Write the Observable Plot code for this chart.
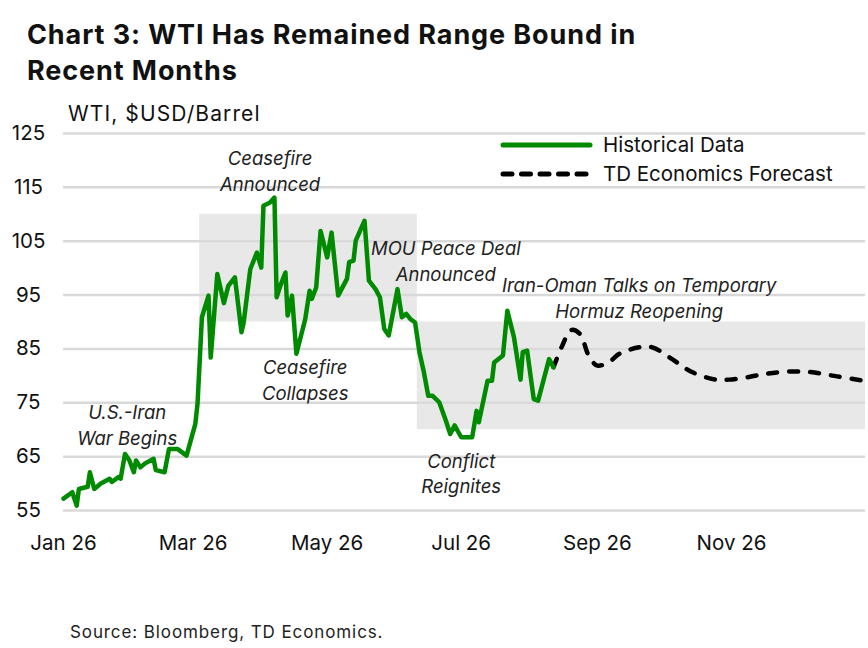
<!DOCTYPE html>
<html>
<head>
<meta charset="utf-8">
<script src="https://cdn.jsdelivr.net/npm/d3@7"></script>
<script src="https://cdn.jsdelivr.net/npm/@observablehq/plot@0.6"></script>
<style>
  body { margin: 0; background: #fff; font-family: Inter, "Open Sans", sans-serif; color: #111; }
  #wrap { position: relative; width: 868px; height: 648px; overflow: hidden; }
  #title { position: absolute; left: 27px; top: 17px; font-size: 27px; font-weight: 700; line-height: 36px; letter-spacing: 0.9px; }
  #ylab { position: absolute; left: 68px; top: 101px; font-size: 21px; letter-spacing: 1.1px; }
  #chart { position: absolute; left: 0; top: 95px; }
  #legend { position: absolute; left: 500px; top: 130px; font-size: 20.5px; letter-spacing: 0px; }
  #legend .row { display: flex; align-items: center; height: 29px; }
  #legend svg { margin-right: 10px; }
  #caption { position: absolute; left: 70px; top: 622px; font-size: 17px; letter-spacing: 0.9px; color: #222; }
</style>
</head>
<body>
<div id="wrap">
  <div id="title">Chart 3: WTI Has Remained Range Bound in<br>Recent Months</div>
  <div id="ylab">WTI, $USD/Barrel</div>
  <div id="chart"></div>
  <div id="legend"></div>
  <div id="caption">Source: Bloomberg, TD Economics.</div>
</div>
<script>
// ---- data ----
const histDates = ["2026-01-01","2026-01-05","2026-01-07","2026-01-08","2026-01-12","2026-01-13","2026-01-15","2026-01-18","2026-01-22","2026-01-23","2026-01-26","2026-01-27","2026-01-29","2026-01-31","2026-02-02","2026-02-03","2026-02-05","2026-02-07","2026-02-11","2026-02-12","2026-02-16","2026-02-18","2026-02-22","2026-02-26","2026-03-02","2026-03-03","2026-03-05","2026-03-08","2026-03-09","2026-03-12","2026-03-15","2026-03-17","2026-03-20","2026-03-23","2026-03-24","2026-03-27","2026-03-30","2026-04-01","2026-04-02","2026-04-05","2026-04-07","2026-04-08","2026-04-10","2026-04-12","2026-04-13","2026-04-15","2026-04-17","2026-04-21","2026-04-23","2026-04-24","2026-04-26","2026-04-28","2026-05-01","2026-05-03","2026-05-06","2026-05-10","2026-05-11","2026-05-13","2026-05-14","2026-05-18","2026-05-20","2026-05-23","2026-05-25","2026-05-27","2026-05-29","2026-06-02","2026-06-04","2026-06-06","2026-06-08","2026-06-10","2026-06-12","2026-06-14","2026-06-16","2026-06-18","2026-06-21","2026-06-24","2026-06-26","2026-06-28","2026-07-01","2026-07-06","2026-07-08","2026-07-09","2026-07-13","2026-07-15","2026-07-16","2026-07-20","2026-07-22","2026-07-25","2026-07-28","2026-07-29","2026-07-31","2026-08-03","2026-08-05","2026-08-10","2026-08-12"];
const histValues = [57.2,58.4,55.9,59.0,59.4,62.1,59.0,60.0,60.9,60.3,61.2,60.9,65.5,64.3,62.1,64.3,63.0,63.7,64.6,62.5,62.1,66.4,66.4,65.2,71.1,74.8,90.9,94.9,83.4,98.9,93.5,96.7,98.3,88.1,89.9,99.8,102.9,100.1,111.6,112.2,113.1,94.6,97.1,99.2,91.2,94.9,84.1,90.5,95.8,94.3,96.4,106.9,102.0,106.6,94.9,98.0,101.1,101.4,105.1,108.8,97.7,96.1,94.6,88.7,87.5,96.1,90.9,91.5,90.5,89.9,84.4,80.7,76.3,76.3,75.1,71.7,69.2,70.8,68.6,68.6,73.5,71.4,79.1,79.1,82.5,83.8,92.1,87.2,79.3,84.4,84.7,75.7,75.4,83.1,81.6];
const fcDates = ["2026-08-12","2026-08-16","2026-08-20","2026-08-24","2026-08-28","2026-09-01","2026-09-07","2026-09-11","2026-09-20","2026-09-26","2026-10-05","2026-10-14","2026-10-25","2026-10-31","2026-11-09","2026-11-17","2026-11-27","2026-12-07","2026-12-19","2026-12-31"];
const fcValues = [81.6,85.6,88.5,87.8,83.8,81.9,82.8,84.1,85.3,85.3,83.1,80.7,79.3,79.3,79.8,80.4,80.8,80.7,79.9,79.1];
const rangeStarts = ["2026-03-04","2026-06-11"];
const rangeEnds = ["2026-06-11","2027-01-01"];
const rangeLows = [90,70];
const rangeHighs = [110,90];
const yTicks = [55,65,75,85,95,105,115,125];
const xTickDates = ["2026-01-01","2026-03-01","2026-05-01","2026-07-01","2026-09-01","2026-11-01"];
const noteTexts = ["Ceasefire\nAnnounced","U.S.-Iran\nWar Begins","Ceasefire\nCollapses","MOU Peace Deal\nAnnounced","Conflict\nReignites","Iran-Oman Talks on Temporary\nHormuz Reopening"];
const noteDates = ["2026-04-05","2026-01-30","2026-04-21","2026-06-24","2026-07-01","2026-09-20"];
const noteValues = [118.3,71.1,79.5,101.5,62.1,94.7];
const seriesNames = ["Historical Data","TD Economics Forecast"];

// ---- build ----
const P = d3.utcParse("%Y-%m-%d");
const hist = histDates.map((d,i)=>({date:P(d), value:histValues[i]}));
const fc = fcDates.map((d,i)=>({date:P(d), value:fcValues[i]}));
const ranges = rangeStarts.map((d,i)=>({x1:P(d), x2:P(rangeEnds[i]), y1:rangeLows[i], y2:rangeHighs[i]}));
const notes = noteTexts.map((t,i)=>({text:t, date:P(noteDates[i]), value:noteValues[i]}));
const xt = xTickDates.map(P);
const GREEN = "#008a00";

const chart = Plot.plot({
  width: 868, height: 480,
  marginLeft: 63, marginRight: 3, marginTop: 38, marginBottom: 65,
  style: {fontFamily: "Inter, 'Open Sans', sans-serif", color: "#111", background: "transparent"},
  x: {type: "utc", domain: [P("2026-01-01"), P("2027-01-01")], axis: null},
  y: {domain: [55,125], axis: null},
  marks: [
    Plot.rect(ranges, {x1:"x1", x2:"x2", y1:"y1", y2:"y2", fill:"#e8e8e8"}),
    Plot.ruleY(yTicks, {stroke:"#d9d9d9", strokeWidth:2.5}),
    Plot.text(yTicks, {y: d=>d, text: d=>String(d), frameAnchor:"left", dx:-35, textAnchor:"middle", fontSize:20.5, fill:"#111"}),
    Plot.text(xt, {x: d=>d, text: d=>d3.utcFormat("%b %y")(d), frameAnchor:"bottom", dy:39, fontSize:20.5, fill:"#111", letterSpacing:"0.3px"}),
    Plot.text(notes, {x:"date", y:"value", text:"text", fontSize:18.5, fontStyle:"italic", fill:"#222", lineHeight:1.4, textAnchor:"middle", letterSpacing:"0.3px"}),
    Plot.line(fc, {x:"date", y:"value", stroke:"#000", strokeWidth:4.5, strokeDasharray:"9,12", strokeLinecap:"round", curve:"catmull-rom"}),
    Plot.line(hist, {x:"date", y:"value", stroke:GREEN, strokeWidth:4.5, strokeLinejoin:"round"})
  ]
});
document.getElementById("chart").appendChild(chart);

// legend
const leg = document.getElementById("legend");
seriesNames.forEach((name,i)=>{
  const row = document.createElement("div"); row.className = "row";
  const dash = i===0 ? "" : 'stroke-dasharray="9,9.5"';
  const col = i===0 ? GREEN : "#000";
  row.innerHTML = `<svg width="93" height="12"><line x1="3" y1="6" x2="90" y2="6" stroke="${col}" stroke-width="5" stroke-linecap="round" ${dash}/></svg><span>${name}</span>`;
  leg.appendChild(row);
});
</script>
</body>
</html>
